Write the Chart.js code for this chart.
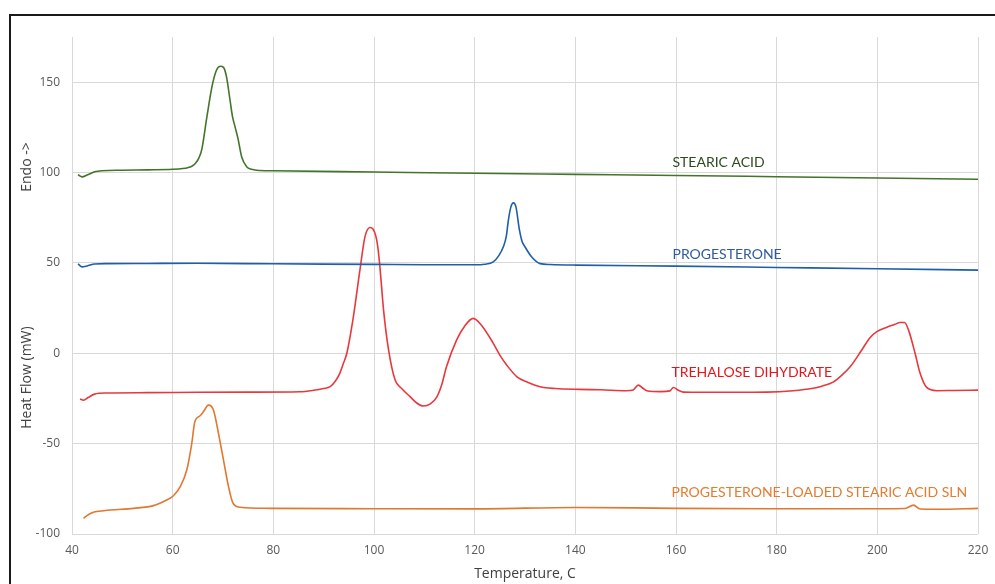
<!DOCTYPE html>
<html>
<head>
<meta charset="utf-8">
<script src="https://cdn.jsdelivr.net/npm/chart.js@4/dist/chart.umd.min.js"></script>
<style>
  body { margin: 0; background: #fff; }
  #wrap { position: relative; width: 995px; height: 584px; overflow: hidden; }
  #frame { position: absolute; left: 9px; top: 14px; width: 1000px; height: 600px;
           border-left: 2px solid #1a1a1a; border-top: 2px solid #1a1a1a; }
  canvas { position: absolute; left: 0; top: 0; }
</style>
</head>
<body>
<div id="wrap">
  <div id="frame"></div>
  <canvas id="chartCanvas" width="995" height="584"></canvas>
</div>
<script>
// temperature (C), heat flow (mW) pairs
const stearicAcid = [
  [41.2, 98.8], [42, 97.6], [43, 98.6], [44.5, 100.4], [46, 101], [50, 101.3], [55, 101.5],
  [60, 101.8], [62, 102.2], [63, 102.7], [63.8, 103.5], [64.5, 105], [65.2, 108], [65.8, 113],
  [66.8, 130.8], [67.8, 147.4], [68.7, 156.6], [69.5, 158.8], [70.1, 158.2], [70.7, 152.9],
  [71.4, 140], [71.9, 130.8], [72.4, 125.3], [73, 118.5], [73.7, 108.7], [74.7, 103.2],
  [75.7, 101.8], [76.7, 101.3], [80, 101], [100, 100.3], [120, 99.6], [140, 99], [160, 98.4],
  [180, 97.7], [200, 97], [220, 96.3]
];
const progesterone = [
  [41.2, 49.5], [42, 47.8], [43, 48.3], [44.5, 49.4], [47, 49.6], [55, 49.7], [65, 49.8],
  [80, 49.5], [100, 49.2], [110, 49], [120, 49], [122, 49.3], [123.7, 50.6], [124.8, 54],
  [125.7, 58.9], [126.3, 65], [126.7, 73.7], [127.2, 81], [127.7, 83.2], [128.2, 81],
  [128.9, 68.1], [129.4, 62], [130, 58.9], [131.3, 53.4], [133, 49.6], [135, 49.1],
  [140, 48.8], [160, 48.2], [180, 47.5], [200, 46.8], [220, 46]
];
const trehaloseDihydrate = [
  [41.6, -25.3], [42.3, -26], [43.2, -24.5], [44.5, -22.6], [47, -22], [55, -21.8], [65, -21.6],
  [75, -21.5], [85.3, -21.3], [88, -20.5], [90, -19.5], [91.3, -18.5], [92.3, -15.5],
  [93.2, -11.1], [94, -5], [94.6, 0], [95.9, 20.2], [97.2, 46], [98.2, 64.4], [99.2, 69.6],
  [99.8, 68.8], [100.3, 65.5], [100.7, 60], [101.1, 50], [101.5, 37], [101.9, 23.9],
  [102.9, 1.8], [104.2, -14.8], [105.5, -19.5],
  [107.2, -24.1], [108.5, -27.5], [109.8, -29.2], [111.2, -28], [112.5, -24.1], [113.5, -17],
  [114.4, -7.5], [116.4, 7.3], [118, 15], [119.7, 19.3], [121.5, 15], [123.7, 5.5], [125, -1],
  [126.5, -7], [128.4, -13], [130.5, -16], [133, -18.5], [136, -19.5], [140.9, -20],
  [145, -20.2], [150.2, -20.7], [151.5, -20.3], [152.5, -17.6], [153.5, -19.5], [154.2, -20.7],
  [157, -21.2], [158.8, -20.8], [159.5, -18.9], [160.5, -20.5], [161.5, -21.5], [165, -21.6],
  [171.4, -21.6], [178, -21.5], [183.3, -20.7], [187, -19.5], [189, -18.2], [191.3, -15.8],
  [193, -12], [194.6, -7.5], [196.9, 1.8], [198.5, 8.5], [199.9, 12], [201.9, 14.4], [203.5, 16],
  [204.5, 17], [205.4, 17], [206.2, 12.8], [207.5, 0], [208.5, -11.1], [209.8, -18.9],
  [211.8, -20.7], [215, -20.6], [220, -20.4]
];
const loadedSLN = [
  [42.3, -91.3], [42.9, -90], [44, -88.3], [44.9, -87.6], [47.6, -86.7], [52.2, -85.8],
  [56.2, -84.3], [58.8, -81.2], [60.1, -79], [61.5, -73.8], [62.8, -64.6], [63.8, -49.8],
  [64.4, -37.9], [65.4, -34.7], [66.1, -32.4], [67.1, -28.7], [68.1, -31.4], [69.1, -44.3],
  [70.1, -59.1], [71.1, -73.8], [72, -83], [73.4, -85.2], [79.3, -85.8], [100, -86],
  [120, -86.1], [140, -85.3], [160, -85.8], [180, -86], [200, -86], [205.5, -85.9],
  [207.2, -84], [208.5, -86.2], [212, -86.3], [220, -85.8]
];

const seriesNames = ['STEARIC ACID', 'PROGESTERONE', 'TREHALOSE DIHYDRATE', 'PROGESTERONE-LOADED STEARIC ACID SLN'];
const seriesData = [stearicAcid, progesterone, trehaloseDihydrate, loadedSLN];
const lineColors = ['#44742a', '#1f5fa8', '#e8383d', '#e2772f'];
const textColors = ['#2c4a1c', '#2f5aa0', '#e3161b', '#e67a2e'];
// where each name sits on the plot (temperature, heat flow)
const labelX = [159.3, 159.3, 159.1, 159.1];
const labelY = [105.8, 54.9, -10.9, -76.8];

const xTicks = [40, 60, 80, 100, 120, 140, 160, 180, 200, 220];
const yTicks = [-100, -50, 0, 50, 100, 150];

const curveLabels = {
  id: 'curveLabels',
  afterDatasetsDraw(chart) {
    const { ctx, scales: { x, y } } = chart;
    ctx.save();
    ctx.font = '14px Lato';
    ctx.textAlign = 'left';
    ctx.textBaseline = 'middle';
    seriesNames.forEach((name, i) => {
      ctx.fillStyle = textColors[i];
      ctx.fillText(name, x.getPixelForValue(labelX[i]), y.getPixelForValue(labelY[i]));
    });
    ctx.restore();
  }
};

const chartCanvas = document.getElementById('chartCanvas');
new Chart(chartCanvas, {
  type: 'line',
  data: {
    datasets: seriesData.map((pts, i) => ({
      label: seriesNames[i],
      data: pts.map(p => ({ x: p[0], y: p[1] })),
      borderColor: lineColors[i],
      borderWidth: 1.6,
      pointRadius: 0,
      fill: false,
      cubicInterpolationMode: 'monotone'
    }))
  },
  options: {
    responsive: false,
    animation: false,
    layout: { padding: { top: 37, right: 17, left: 0, bottom: 0 } },
    plugins: { legend: { display: false }, tooltip: { enabled: false } },
    scales: {
      x: {
        type: 'linear',
        min: 40, max: 220,
        afterBuildTicks: s => { s.ticks = xTicks.map(v => ({ value: v })); },
        afterFit: s => { s.height = 50; s.paddingLeft = 0; s.paddingRight = 0; },
        grid: { color: '#d9d9d9', drawTicks: false },
        border: { display: false },
        ticks: { color: '#595959', font: { family: 'Open Sans', size: 12 }, padding: 9, maxRotation: 0 },
        title: { display: true, text: 'Temperature, C', color: '#404040',
                 font: { family: 'Open Sans', size: 14 }, padding: { top: 0, bottom: 2 } }
      },
      y: {
        min: -100, max: 175,
        afterBuildTicks: s => { s.ticks = yTicks.map(v => ({ value: v })); },
        afterFit: s => { s.width = 72; },
        grid: { color: '#d9d9d9', drawTicks: false },
        border: { display: false },
        ticks: { color: '#595959', font: { family: 'Open Sans', size: 12 }, padding: 12 },
        title: { display: true, text: 'Heat Flow (mW)' + ' '.repeat(37) + 'Endo ->', color: '#404040',
                 font: { family: 'Open Sans', size: 14 }, padding: { top: 19, bottom: 0 } }
      }
    }
  },
  plugins: [curveLabels]
});
</script>
</body>
</html>
